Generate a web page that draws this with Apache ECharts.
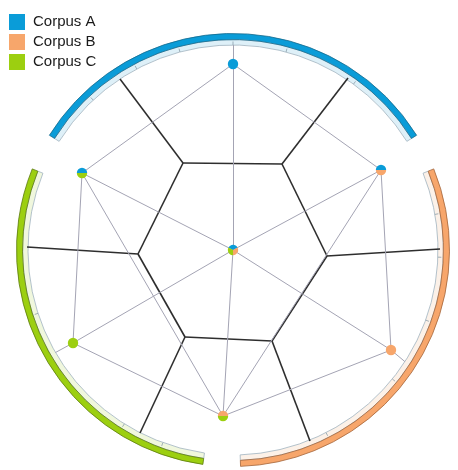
<!DOCTYPE html>
<html><head><meta charset="utf-8">
<script src="https://cdn.jsdelivr.net/npm/echarts@6/dist/echarts.min.js"></script>
<style>html,body{margin:0;padding:0;background:#fff}#c{width:458px;height:470px}</style>
</head><body><div id="c"></div>
<script>
// ---- data (plane units, origin at ring centre, y up) ----
const corpora = ['Corpus A', 'Corpus B', 'Corpus C'];
const corpusColors = ['#0a9cd8', '#f7a66b', '#9ccf10'];
const corpusLight = ['#def0f8', '#fcf1e8', '#f0f7dd'];
const corpusEdge = ['#17698c', '#a3653a', '#5a7a0c'];
const arcStart = [32, -88, 158];     // degrees, counter-clockwise from east
const arcEnd = [148, 22, 262];
const tickAngles = [[54, 75, 90, 105, 118, 133], [10, -2, -20, -39, -63], [198, 238, 250]];

const pointX = [0, 0, 148, 158, -10, -160, -151];
const pointY = [0, 186, 80, -100, -166, -93, 77];
const pointSets = [[0, 2, 1], [0], [0, 1], [1], [1, 2], [2], [0, 2]];
const links = [[0,1],[0,2],[0,3],[0,4],[0,5],[0,6],[1,2],[2,3],[3,4],[4,5],[5,6],[6,1],[2,4],[6,4]];
const anchorLinks = [[1, 0], [3, 1], [5, 2]];   // point index -> corpus index

const cellVX = [-50, 49, 94, 39, -48, -95, -113, 115, 207, 77, -93, -206];
const cellVY = [87, 86, -6, -91, -87, -4, 171, 172, 1, -191, -183, 3];
const cellEdges = [[0,1],[1,2],[2,3],[3,4],[4,5],[5,0],[0,6],[1,7],[2,8],[3,9],[4,10],[5,11]];

// ---- chart ----
const R_IN = 205, R_MID = 210.5, R_OUT = 216.5;
const D = Math.PI / 180;

function arcSeries(i) {
  return {
    type: 'custom', name: corpora[i], coordinateSystem: 'cartesian2d',
    itemStyle: { color: corpusColors[i] }, z: 1, silent: true,
    data: [[arcStart[i], arcEnd[i]]],
    renderItem: function (params, api) {
      const c = api.coord([0, 0]);
      const k = api.size([1, 1])[0];
      const a0 = api.value(0), a1 = api.value(1);
      const children = [
        { type: 'sector', shape: { cx: c[0], cy: c[1], r0: R_IN * k, r: R_MID * k, startAngle: -a1 * D, endAngle: -a0 * D, clockwise: true },
          style: { fill: corpusLight[i], stroke: '#9fb2bf', lineWidth: 0.8 } },
        { type: 'sector', shape: { cx: c[0], cy: c[1], r0: R_MID * k, r: R_OUT * k, startAngle: -a1 * D, endAngle: -a0 * D, clockwise: true },
          style: { fill: corpusColors[i], stroke: corpusEdge[i], lineWidth: 0.8 } }
      ];
      tickAngles[i].forEach(function (t) {
        const p1 = api.coord([R_IN * Math.cos(t * D), R_IN * Math.sin(t * D)]);
        const p2 = api.coord([(R_IN + 3.5) * Math.cos(t * D), (R_IN + 3.5) * Math.sin(t * D)]);
        children.push({ type: 'line', shape: { x1: p1[0], y1: p1[1], x2: p2[0], y2: p2[1] }, style: { stroke: '#8c9ea9', lineWidth: 0.8 } });
      });
      return { type: 'group', children: children };
    }
  };
}

const cellData = cellEdges.map(e => ({ coords: [[cellVX[e[0]], cellVY[e[0]]], [cellVX[e[1]], cellVY[e[1]]]] }));
const linkData = links.map(l => ({ coords: [[pointX[l[0]], pointY[l[0]]], [pointX[l[1]], pointY[l[1]]]] }));
anchorLinks.forEach(function (a) {
  const m = (arcStart[a[1]] + arcEnd[a[1]]) / 2;
  linkData.push({ coords: [[pointX[a[0]], pointY[a[0]]], [R_IN * Math.cos(m * D), R_IN * Math.sin(m * D)]] });
});

const chart = echarts.init(document.getElementById('c'), null, { renderer: 'canvas' });
chart.setOption({
  animation: false,
  backgroundColor: '#ffffff',
  legend: {
    data: corpora, orient: 'vertical', left: 9, top: 14, padding: 0, icon: 'rect',
    itemWidth: 16, itemHeight: 16, itemGap: 4,
    textStyle: { fontFamily: 'Liberation Sans, Arial, sans-serif', fontSize: 15, color: '#1a1a1a', padding: [0, 0, 0, 3] }
  },
  grid: { left: 0, right: 0, top: 0, bottom: 0 },
  xAxis: { type: 'value', min: -233, max: 225, show: false },
  yAxis: { type: 'value', min: -220, max: 250, show: false },
  series: [
    arcSeries(0), arcSeries(1), arcSeries(2),
    { type: 'lines', name: 'cells', coordinateSystem: 'cartesian2d', z: 2, silent: true,
      lineStyle: { color: '#2e2e2e', width: 1.6, opacity: 1, curveness: 0 }, data: cellData },
    { type: 'lines', name: 'links', coordinateSystem: 'cartesian2d', z: 3, silent: true,
      lineStyle: { color: '#a4a4b4', width: 1, opacity: 1, curveness: 0 }, data: linkData },
    { type: 'custom', name: 'points', coordinateSystem: 'cartesian2d', z: 4, silent: true,
      data: pointX.map((x, i) => [x, pointY[i], i]),
      renderItem: function (params, api) {
        const p = api.coord([api.value(0), api.value(1)]);
        const sets = pointSets[api.value(2)];
        const n = sets.length, r = 5.2;
        if (n === 1) return { type: 'circle', shape: { cx: p[0], cy: p[1], r: r }, style: { fill: corpusColors[sets[0]] } };
        const ch = sets.map(function (s, j) {
          const st = 90 - 180 / n + j * 360 / n, en = st + 360 / n;
          return { type: 'sector', shape: { cx: p[0], cy: p[1], r0: 0, r: r, startAngle: -en * D, endAngle: -st * D, clockwise: true }, style: { fill: corpusColors[s] } };
        });
        return { type: 'group', children: ch };
      } }
  ]
});
</script></body></html>
